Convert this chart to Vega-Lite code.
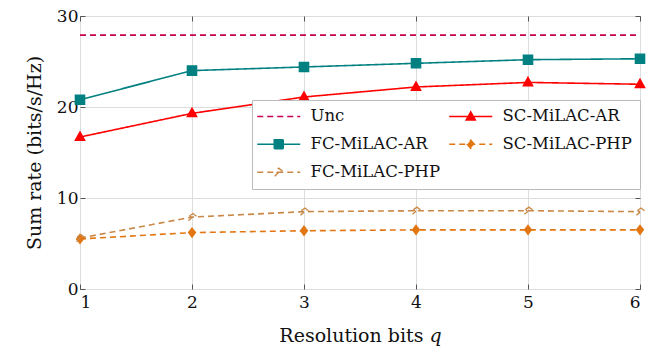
{
  "$schema": "https://vega.github.io/schema/vega-lite/v6.json",
  "autosize": {"type": "none"},
  "width": 560,
  "height": 273,
  "padding": {"left": 80, "top": 16, "right": 14, "bottom": 61},
  "background": "white",
  "config": {
    "font": "DejaVu Serif",
    "view": {"stroke": "#222", "strokeWidth": 1},
    "axis": {"labelFont": "DejaVu Serif", "titleFont": "DejaVu Serif", "labelFontSize": 17, "titleFontSize": 19, "titleFontWeight": "normal", "labelColor": "#111", "titleColor": "#111", "gridColor": "#dddddd", "gridWidth": 1, "tickColor": "#555", "domain": false},
    "legend": {"labelFont": "DejaVu Serif"}
  },
  "data": {"values": [
    {"q": 1, "rate": 27.9, "series": "Unc"},
    {"q": 2, "rate": 27.9, "series": "Unc"},
    {"q": 3, "rate": 27.9, "series": "Unc"},
    {"q": 4, "rate": 27.9, "series": "Unc"},
    {"q": 5, "rate": 27.9, "series": "Unc"},
    {"q": 6, "rate": 27.9, "series": "Unc"},
    {"q": 1, "rate": 20.8, "series": "FC-MiLAC-AR"},
    {"q": 2, "rate": 24.0, "series": "FC-MiLAC-AR"},
    {"q": 3, "rate": 24.4, "series": "FC-MiLAC-AR"},
    {"q": 4, "rate": 24.8, "series": "FC-MiLAC-AR"},
    {"q": 5, "rate": 25.2, "series": "FC-MiLAC-AR"},
    {"q": 6, "rate": 25.3, "series": "FC-MiLAC-AR"},
    {"q": 1, "rate": 16.7, "series": "SC-MiLAC-AR"},
    {"q": 2, "rate": 19.3, "series": "SC-MiLAC-AR"},
    {"q": 3, "rate": 21.1, "series": "SC-MiLAC-AR"},
    {"q": 4, "rate": 22.2, "series": "SC-MiLAC-AR"},
    {"q": 5, "rate": 22.7, "series": "SC-MiLAC-AR"},
    {"q": 6, "rate": 22.5, "series": "SC-MiLAC-AR"},
    {"q": 1, "rate": 5.5, "series": "SC-MiLAC-PHP"},
    {"q": 2, "rate": 6.2, "series": "SC-MiLAC-PHP"},
    {"q": 3, "rate": 6.4, "series": "SC-MiLAC-PHP"},
    {"q": 4, "rate": 6.5, "series": "SC-MiLAC-PHP"},
    {"q": 5, "rate": 6.5, "series": "SC-MiLAC-PHP"},
    {"q": 6, "rate": 6.5, "series": "SC-MiLAC-PHP"},
    {"q": 1, "rate": 5.6, "series": "FC-MiLAC-PHP"},
    {"q": 2, "rate": 7.9, "series": "FC-MiLAC-PHP"},
    {"q": 3, "rate": 8.5, "series": "FC-MiLAC-PHP"},
    {"q": 4, "rate": 8.6, "series": "FC-MiLAC-PHP"},
    {"q": 5, "rate": 8.6, "series": "FC-MiLAC-PHP"},
    {"q": 6, "rate": 8.5, "series": "FC-MiLAC-PHP"}
  ]},
  "layer": [
    {
      "mark": {"type": "line", "strokeWidth": 1.6},
      "encoding": {
        "x": {"field": "q", "type": "quantitative", "scale": {"domain": [1, 6], "nice": false},
              "axis": {"title": "Resolution bits 𝑞", "values": [1, 2, 3, 4, 5, 6], "tickSize": -5, "labelPadding": 10, "titlePadding": 16, "grid": true}},
        "y": {"field": "rate", "type": "quantitative", "scale": {"domain": [0, 30], "nice": false},
              "axis": {"title": "Sum rate (bits/s/Hz)", "values": [0, 10, 20, 30], "tickSize": -5, "labelPadding": 7, "titlePadding": 12, "grid": true}},
        "color": {"field": "series", "type": "nominal",
                  "scale": {"domain": ["Unc", "SC-MiLAC-AR", "FC-MiLAC-AR", "SC-MiLAC-PHP", "FC-MiLAC-PHP"],
                            "range": ["#c8004f", "#ff0000", "#008080", "#e27612", "#c98846"]},
                  "legend": {
                    "title": null, "orient": "none", "legendX": 172, "legendY": 84,
                    "columns": 2, "direction": "horizontal",
                    "labelFont": "DejaVu Serif", "labelFontSize": 16.5, "labelColor": "#111",
                    "symbolSize": 100, "symbolStrokeWidth": 1.5, "labelOffset": 34,
                    "rowPadding": 11, "columnPadding": 6, "padding": 8,
                    "strokeColor": "#bbbbbb", "fillColor": "white", "labelLimit": 300,
                    "encode": {"symbols": {"update": {
                      "shape": {"signal": "datum.value === 'Unc' ? 'M-2.2,0H6.4' : datum.value === 'SC-MiLAC-AR' ? 'M-2.2,0H6.4M2.1,-0.9L3.0,0.7L1.2,0.7Z' : datum.value === 'FC-MiLAC-AR' ? 'M-2.2,0H6.4M1.2,-0.9H3.0V0.9H1.2Z' : datum.value === 'SC-MiLAC-PHP' ? 'M-2.2,0H6.4M2.1,-0.8L2.8,0L2.1,0.8L1.4,0Z' : 'M-2.2,0H6.4M1.3,0.8L1.9,0.2L1.5,-0.3L2.1,-0.8L2.9,-0.2'"},
                      "strokeDash": {"signal": "(datum.value === 'Unc' || datum.value === 'SC-MiLAC-PHP' || datum.value === 'FC-MiLAC-PHP') ? [6, 4] : [1, 0]"},
                      "fill": {"signal": "datum.value === 'FC-MiLAC-PHP' ? 'transparent' : scale('color', datum.value)"},
                      "stroke": {"signal": "scale('color', datum.value)"}
                    }}}
                  }},
        "strokeDash": {"field": "series", "type": "nominal",
                       "scale": {"domain": ["Unc", "SC-MiLAC-AR", "FC-MiLAC-AR", "SC-MiLAC-PHP", "FC-MiLAC-PHP"],
                                 "range": [[6, 4], [1, 0], [1, 0], [6, 4], [6, 4]]},
                       "legend": null}
      }
    },
    {
      "transform": [{"filter": "datum.series !== 'Unc'"}],
      "mark": {"type": "point", "filled": false, "opacity": 1, "strokeWidth": 1.3},
      "encoding": {
        "x": {"field": "q", "type": "quantitative", "axis": {"orient": "top", "labels": false, "title": null, "grid": false, "tickSize": -5, "values": [1, 2, 3, 4, 5, 6]}},
        "y": {"field": "rate", "type": "quantitative", "axis": {"orient": "right", "labels": false, "title": null, "grid": false, "tickSize": -5, "values": [0, 10, 20, 30]}},
        "color": {"field": "series", "type": "nominal"},
        "fill": {"condition": {"test": "datum.series === 'FC-MiLAC-PHP'", "value": "transparent"}, "field": "series", "type": "nominal",
                 "scale": {"domain": ["SC-MiLAC-AR", "FC-MiLAC-AR", "SC-MiLAC-PHP", "FC-MiLAC-PHP"], "range": ["#ff0000", "#008080", "#e27612", "#c98846"]}, "legend": null},
        "shape": {"field": "series", "type": "nominal",
                  "scale": {"domain": ["SC-MiLAC-AR", "FC-MiLAC-AR", "SC-MiLAC-PHP", "FC-MiLAC-PHP"],
                            "range": ["M0,-1.1L1,0.7L-1,0.7Z", "square", "M0,-1L0.75,0L0,1L-0.75,0Z", "M-0.8,0.8L-0.1,0.2L-0.5,-0.3L0.2,-0.8L1,-0.2"]},
                  "legend": null},
        "size": {"field": "series", "type": "nominal",
                 "scale": {"domain": ["SC-MiLAC-AR", "FC-MiLAC-AR", "SC-MiLAC-PHP", "FC-MiLAC-PHP"], "range": [90, 80, 45, 50]},
                 "legend": null}
      }
    }
  ],
  "resolve": {"axis": {"x": "independent", "y": "independent"}}
}
